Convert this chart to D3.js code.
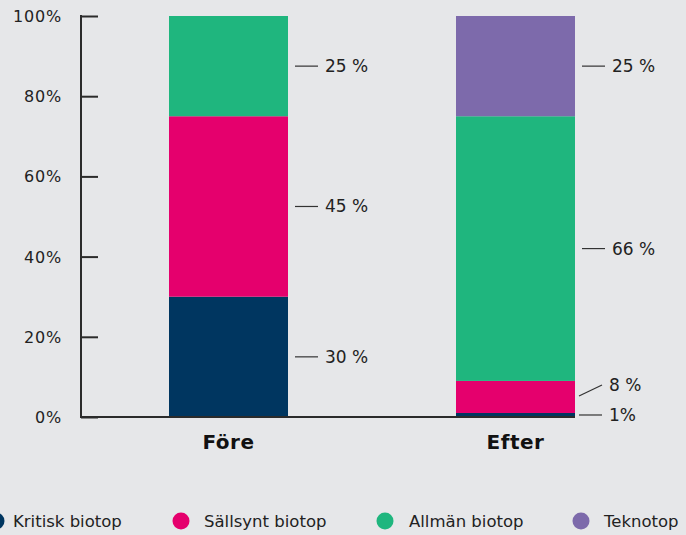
<html>
<head>
<meta charset="utf-8">
<script src="https://d3js.org/d3.v7.min.js"></script>
<style>
  body { margin: 0; background: #e6e7e9; }
  text { font-family: "DejaVu Sans", sans-serif; fill: #222; }
</style>
</head>
<body>
<script>
// data
const groups = ["Före", "Efter"];
const keys = ["Kritisk biotop", "Sällsynt biotop", "Allmän biotop", "Teknotop"];
const fore = [30, 45, 25, 0];
const efter = [1, 8, 66, 25];
const colors = ["#003660", "#e5006d", "#1fb67e", "#7d6aab"];
const yTicks = [0, 20, 40, 60, 80, 100];

var svg = d3.select("body").append("svg").attr("width", 686).attr("height", 535);
svg.append("rect").attr("width", 686).attr("height", 535).attr("fill", "#e6e7e9");

let axisX = 81;
let x = d3.scaleBand().domain(groups).range([169, 575]).paddingInner(168 / 287).paddingOuter(0);
let y = d3.scaleLinear().domain([0, 100]).range([417, 16]);
let color = d3.scaleOrdinal().domain(keys).range(colors);

let rows = groups.map((g, i) => {
  let vals = i == 0 ? fore : efter;
  let r = { group: g };
  keys.forEach((k, j) => r[k] = vals[j]);
  return r;
});
let series = d3.stack().keys(keys)(rows);

// bars
svg.append("g").selectAll("g").data(series).join("g")
  .attr("fill", d => color(d.key))
  .selectAll("rect").data(d => d).join("rect")
  .attr("x", d => x(d.data.group))
  .attr("width", x.bandwidth())
  .attr("y", d => y(d[1]))
  .attr("height", d => y(d[0]) - y(d[1]));

// y axis
let yAxis = svg.append("g").attr("transform", "translate(" + axisX + ",0)")
  .call(d3.axisRight(y).tickValues(yTicks).tickSize(17).tickFormat(""));
yAxis.select(".domain").remove();
yAxis.selectAll("line").attr("stroke", "#2b2b2b").attr("stroke-width", 2);
svg.append("line").attr("x1", axisX).attr("x2", axisX).attr("y1", y(100) - 1).attr("y2", y(0) + 1)
  .attr("stroke", "#2b2b2b").attr("stroke-width", 2);
svg.append("line").attr("x1", axisX).attr("x2", x("Efter") + x.bandwidth()).attr("y1", y(0)).attr("y2", y(0))
  .attr("stroke", "#2b2b2b").attr("stroke-width", 2);
svg.append("g").selectAll("text").data(yTicks).join("text")
  .attr("x", 62).attr("y", d => y(d) + 6)
  .attr("text-anchor", "end").attr("font-size", 16).attr("letter-spacing", 0.8)
  .text(d => d + "%");

// group labels
svg.append("g").selectAll("text").data(groups).join("text")
  .attr("x", d => x(d) + x.bandwidth() / 2).attr("y", 449)
  .attr("text-anchor", "middle").attr("font-size", 20).attr("font-weight", 700)
  .attr("letter-spacing", 0.5)
  .style("fill", "#111")
  .text(d => d);

// value labels with leader lines
let labels = [];
series.forEach(s => s.forEach(d => {
  let v = d[1] - d[0];
  if (v > 0) labels.push({ group: d.data.group, v: v, mid: (d[0] + d[1]) / 2 });
}));
let lab = svg.append("g").selectAll("g").data(labels).join("g");
lab.each(function(d) {
  let g = d3.select(this);
  let x0 = x(d.group) + x.bandwidth();
  let ym = y(d.mid);
  let yt = ym;
  if (d.v == 8 && d.group == "Efter") { ym = ym - 1; yt = ym - 11; }
  let small = d.v < 10 && d.group == "Efter";
  let lx1 = small ? x0 + 4 : x0 + 7;
  g.append("line").attr("x1", lx1).attr("x2", lx1 + 23).attr("y1", ym).attr("y2", yt)
    .attr("stroke", "#333").attr("stroke-width", 1.2);
  g.append("text").attr("x", lx1 + 30).attr("y", yt + 6).attr("font-size", 17)
    .text(d.v == 1 ? d.v + "%" : d.v + " %");
});

// legend
let legCx = [-4, 181, 385, 581];
let legTx = [13, 204, 409, 604];
let leg = svg.append("g").selectAll("g").data(keys).join("g");
leg.append("circle").attr("cx", (d, i) => legCx[i]).attr("cy", 521).attr("r", 8.5).attr("fill", d => color(d));
leg.append("text").attr("x", (d, i) => legTx[i]).attr("y", 527).attr("font-size", 16.5).text(d => d);
</script>
</body>
</html>
